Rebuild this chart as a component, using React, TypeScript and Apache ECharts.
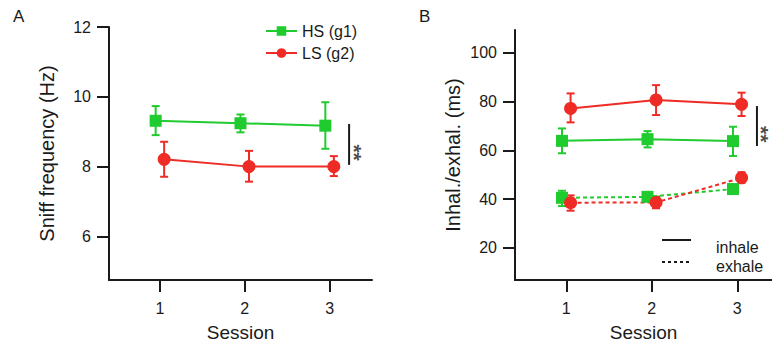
import React, { useEffect, useRef } from "react";
import * as echarts from "echarts";

// ---- Data ----
const sessions = [1, 2, 3];
const sessionTicks = [1, 2, 3];
const freqTicks = [6, 8, 10, 12];
const msTicks = [20, 40, 60, 80, 100];

// Panel A: sniff frequency (Hz)
const hsFreq = [9.32, 9.25, 9.18];
const hsFreqLo = [8.91, 8.99, 8.52];
const hsFreqHi = [9.74, 9.5, 9.85];
const lsFreq = [8.22, 8.01, 8.01];
const lsFreqLo = [7.72, 7.58, 7.74];
const lsFreqHi = [8.72, 8.46, 8.31];

// Panel B: inhalation / exhalation durations (ms)
const hsInhale = [63.9, 64.6, 63.8];
const hsInhaleLo = [58.8, 61.2, 57.7];
const hsInhaleHi = [69.0, 67.9, 69.7];
const lsInhale = [77.2, 80.7, 78.9];
const lsInhaleLo = [71.5, 74.5, 74.1];
const lsInhaleHi = [83.4, 86.8, 83.7];
const hsExhale = [40.5, 40.9, 44.1];
const hsExhaleLo = [37.1, 39.9, 43.3];
const hsExhaleHi = [43.4, 41.9, 44.9];
const lsExhale = [38.5, 38.6, 48.7];
const lsExhaleLo = [35.2, 36.2, 46.7];
const lsExhaleHi = [41.5, 41.0, 51.0];

// significance markers: [x, yTop, yBottom]
const sigA = [3.23, 9.23, 8.06];
const sigB = [3.23, 78.2, 61.8];

const GREEN = "#1fcb2e";
const RED = "#ee2b25";
const INK = "#1a1a1a";
const FONT = "'Liberation Sans', Arial, Helvetica, sans-serif";
const OFF = 0.05;

const pts = (vals: number[], dx: number) => sessions.map((s, i) => [s + dx, vals[i]]);
const errs = (vals: number[], lo: number[], hi: number[], dx: number) =>
  sessions.map((s, i) => [s + dx, vals[i], lo[i], hi[i]]);

function errSeries(data: number[][], color: string, gi: number) {
  return {
    type: "custom",
    xAxisIndex: gi,
    yAxisIndex: gi,
    z: 2,
    silent: true,
    data,
    renderItem: (params: any, api: any) => {
      const x = api.value(0);
      const top = api.coord([x, api.value(3)]);
      const bot = api.coord([x, api.value(2)]);
      const w = 4;
      const st = { stroke: color, lineWidth: 2 };
      return {
        type: "group",
        children: [
          { type: "line", shape: { x1: top[0], y1: top[1], x2: bot[0], y2: bot[1] }, style: st },
          { type: "line", shape: { x1: top[0] - w, y1: top[1], x2: top[0] + w, y2: top[1] }, style: st },
          { type: "line", shape: { x1: bot[0] - w, y1: bot[1], x2: bot[0] + w, y2: bot[1] }, style: st },
        ],
      };
    },
  };
}

function lineSeries(name: string, data: number[][], color: string, symbol: string, gi: number, dashed = false) {
  return {
    name,
    type: "line",
    xAxisIndex: gi,
    yAxisIndex: gi,
    z: 3,
    data,
    symbol,
    symbolSize: symbol === "rect" ? 12 : 13,
    itemStyle: { color },
    lineStyle: { color, width: 2, type: dashed ? [4, 3] : "solid" },
  };
}

function sigSeries(sig: number[], gi: number) {
  return [
    {
      type: "line",
      xAxisIndex: gi,
      yAxisIndex: gi,
      symbol: "none",
      silent: true,
      data: [[sig[0], sig[1]], [sig[0], sig[2]]],
      lineStyle: { color: INK, width: 2 },
    },
    {
      type: "scatter",
      xAxisIndex: gi,
      yAxisIndex: gi,
      symbolSize: 0,
      silent: true,
      data: [[sig[0], (sig[1] + sig[2]) / 2]],
      label: {
        show: true,
        formatter: "**",
        position: "right",
        distance: 5,
        rotate: -90,
        fontSize: 21,
        fontWeight: "bold",
        color: INK,
        fontFamily: FONT,
      },
    },
  ];
}

function xAxis(gi: number, min: number, max: number) {
  return {
    type: "value",
    gridIndex: gi,
    min,
    max,
    name: "Session",
    nameLocation: "middle",
    nameGap: 43,
    nameTextStyle: { fontSize: 19, color: INK, fontFamily: FONT },
    axisLine: { show: true, lineStyle: { color: INK, width: 2 } },
    axisTick: { show: true, length: 12, lineStyle: { color: INK, width: 2 }, customValues: sessionTicks },
    axisLabel: { fontSize: 16, color: INK, margin: 20, fontFamily: FONT, customValues: sessionTicks },
    splitLine: { show: false },
  };
}

function yAxis(gi: number, min: number, max: number, ticks: number[], name: string) {
  return {
    type: "value",
    gridIndex: gi,
    min,
    max,
    name,
    nameLocation: "middle",
    nameGap: 52,
    nameTextStyle: { fontSize: 20, color: INK, fontFamily: FONT },
    axisLine: { show: true, lineStyle: { color: INK, width: 2 } },
    axisTick: { show: true, length: 12, lineStyle: { color: INK, width: 2 }, customValues: ticks },
    axisLabel: { fontSize: 16, color: INK, margin: 18, fontFamily: FONT, customValues: ticks },
    splitLine: { show: false },
  };
}

export default function App() {
  const ref = useRef<HTMLDivElement>(null);
  useEffect(() => {
    if (!ref.current) return;
    const chart = echarts.init(ref.current, null, { renderer: "svg" });
    chart.setOption({
      animation: false,
      backgroundColor: "#ffffff",
      textStyle: { fontFamily: FONT },
      grid: [
        { left: 109, top: 27, width: 263, height: 253 },
        { left: 515, top: 30, width: 257, height: 250 },
      ],
      xAxis: [xAxis(0, 0.4, 3.5), xAxis(1, 0.4, 3.406)],
      yAxis: [
        yAxis(0, 4.77, 12, freqTicks, "Sniff frequency (Hz)"),
        yAxis(1, 6.73, 109.45, msTicks, "Inhal./exhal. (ms)"),
      ],
      legend: {
        data: ["HS (g1)", "LS (g2)"],
        orient: "vertical",
        left: 265,
        top: 22,
        padding: 0,
        itemWidth: 31,
        itemHeight: 12,
        itemGap: 4,
        selectedMode: false,
        textStyle: { fontSize: 16, color: INK, fontFamily: FONT, lineHeight: 18 },
      },
      graphic: [
        { type: "text", left: 13, top: 8, style: { text: "A", fontSize: 17, fill: INK, fontFamily: FONT } },
        { type: "text", left: 419, top: 8, style: { text: "B", fontSize: 17, fill: INK, fontFamily: FONT } },
        { type: "line", shape: { x1: 662, y1: 240, x2: 691, y2: 240 }, style: { stroke: INK, lineWidth: 2 } },
        { type: "line", shape: { x1: 662, y1: 262, x2: 691, y2: 262 }, style: { stroke: INK, lineWidth: 2, lineDash: [3, 3] } },
        { type: "text", x: 716, y: 247, style: { text: "inhale", fontSize: 16, fill: INK, fontFamily: FONT, verticalAlign: "middle" } },
        { type: "text", x: 716, y: 266, style: { text: "exhale", fontSize: 16, fill: INK, fontFamily: FONT, verticalAlign: "middle" } },
      ],
      series: [
        errSeries(errs(hsFreq, hsFreqLo, hsFreqHi, -OFF), GREEN, 0),
        errSeries(errs(lsFreq, lsFreqLo, lsFreqHi, OFF), RED, 0),
        lineSeries("HS (g1)", pts(hsFreq, -OFF), GREEN, "rect", 0),
        lineSeries("LS (g2)", pts(lsFreq, OFF), RED, "circle", 0),
        ...sigSeries(sigA, 0),
        errSeries(errs(hsInhale, hsInhaleLo, hsInhaleHi, -OFF), GREEN, 1),
        errSeries(errs(hsExhale, hsExhaleLo, hsExhaleHi, -OFF), GREEN, 1),
        errSeries(errs(lsInhale, lsInhaleLo, lsInhaleHi, OFF), RED, 1),
        errSeries(errs(lsExhale, lsExhaleLo, lsExhaleHi, OFF), RED, 1),
        lineSeries("HS inhale", pts(hsInhale, -OFF), GREEN, "rect", 1),
        lineSeries("HS exhale", pts(hsExhale, -OFF), GREEN, "rect", 1, true),
        lineSeries("LS inhale", pts(lsInhale, OFF), RED, "circle", 1),
        lineSeries("LS exhale", pts(lsExhale, OFF), RED, "circle", 1, true),
        ...sigSeries(sigB, 1),
      ],
    });
    return () => chart.dispose();
  }, []);
  return (
    <div
      ref={ref}
      style={{ position: "fixed", left: 0, top: 0, width: 772, height: 349, background: "#fff" }}
    />
  );
}
